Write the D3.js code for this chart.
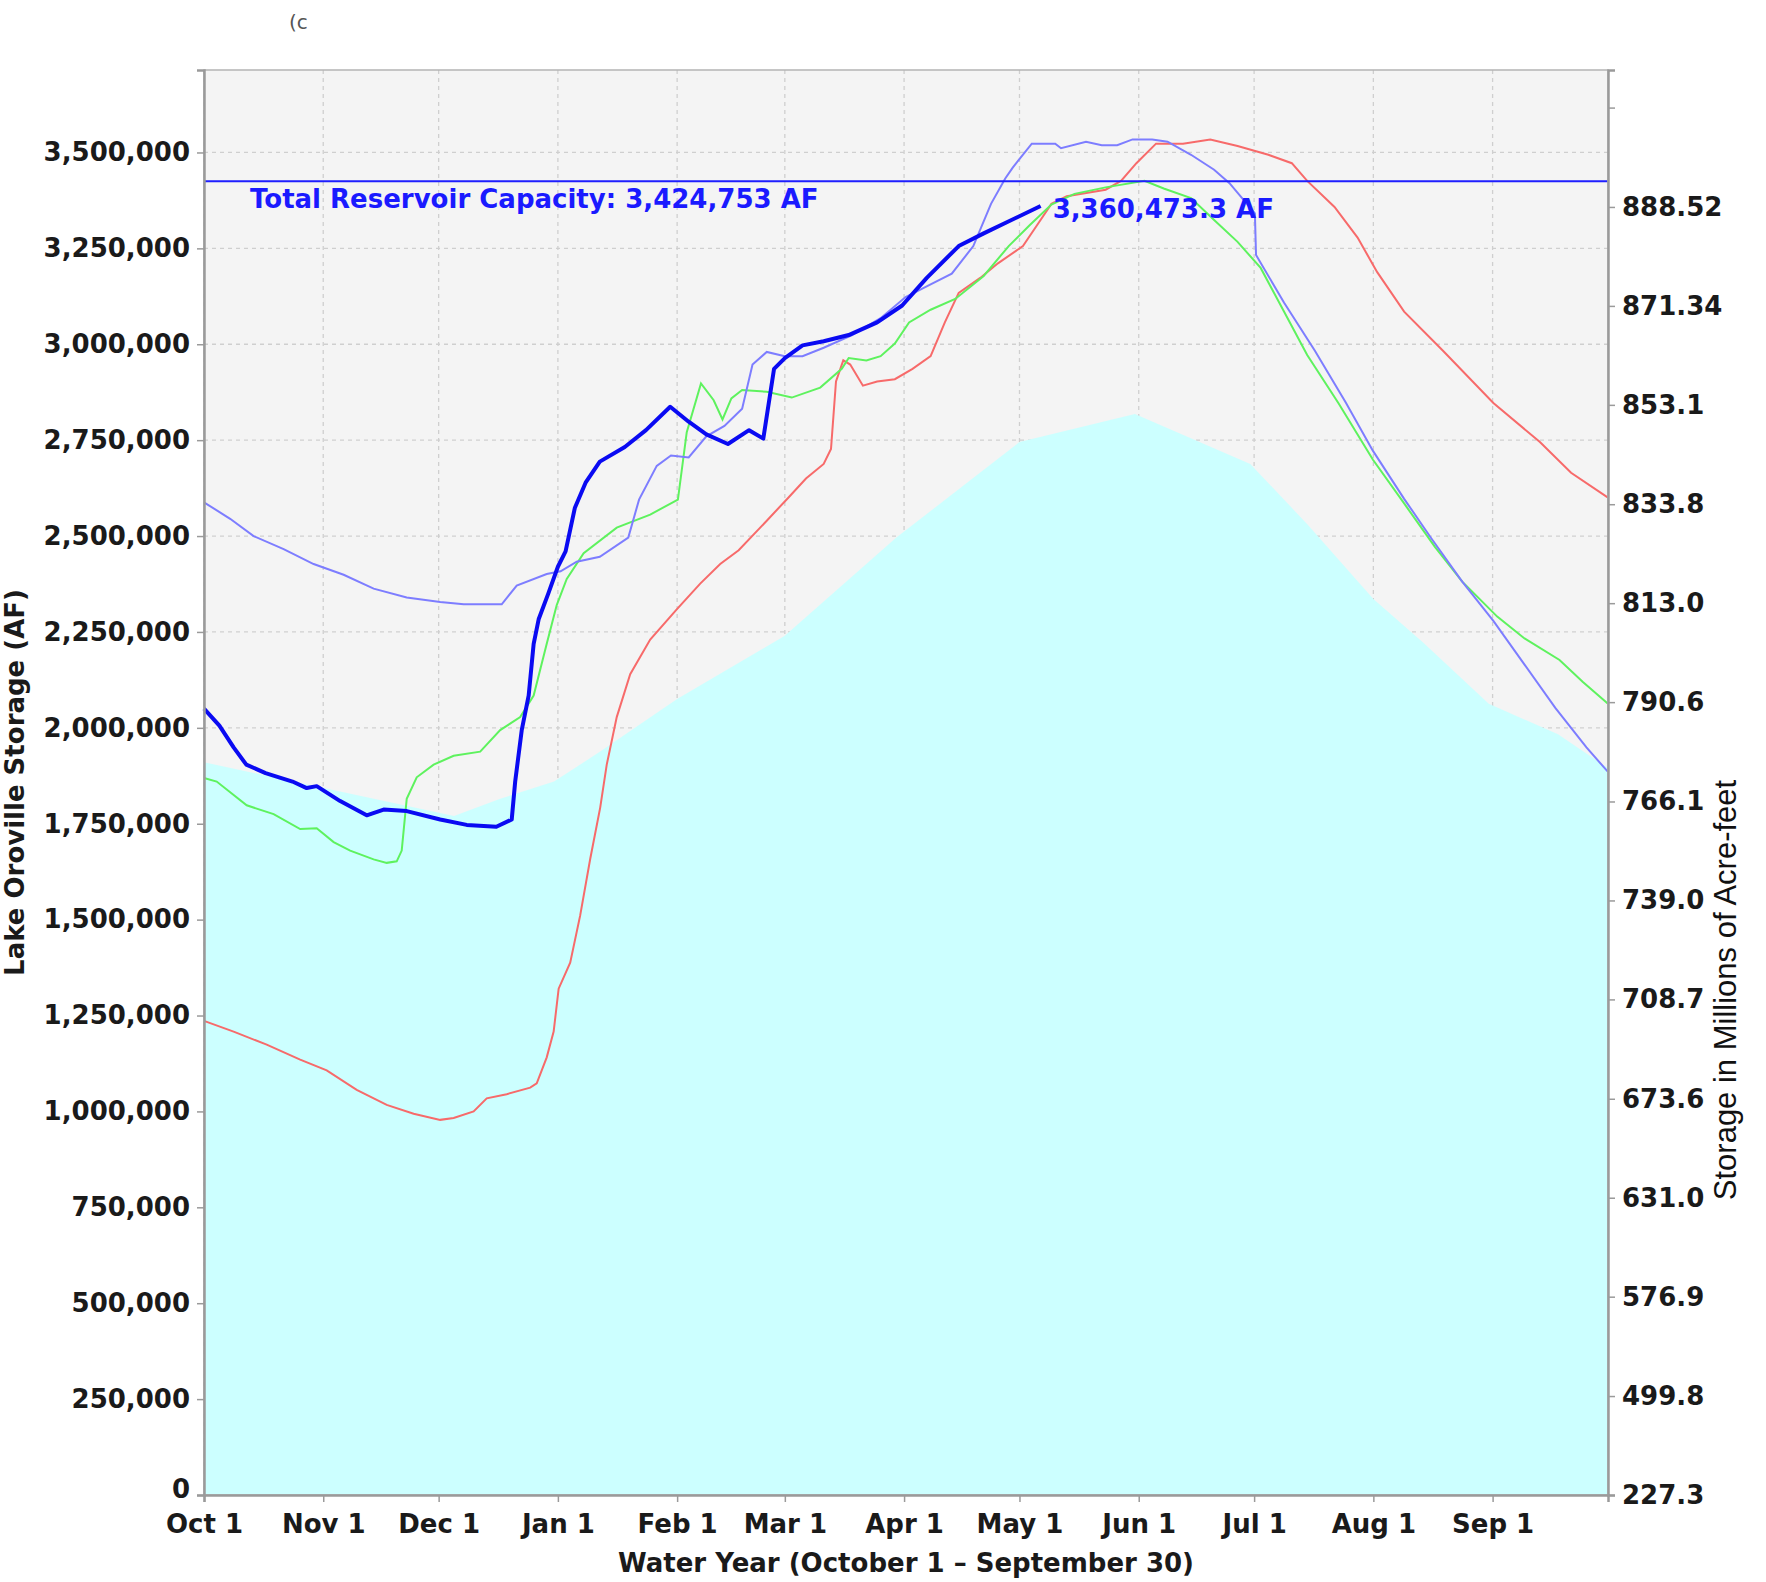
<!DOCTYPE html>
<html>
<head>
<meta charset="utf-8">
<script src="https://cdn.jsdelivr.net/npm/d3@7"></script>
<style>
  body { margin: 0; background: #ffffff; }
  svg { display: block; }
</style>
</head>
<body>
<script>
// size of the picture
var w = 1766;
var h = 1582;
const margin = {top: 70, bottom: 87, right: 158, left: 204};

// x axis: day of the water year (0 = Oct 1)
const monthDays = [0, 31, 61, 92, 123, 151, 182, 212, 243, 273, 304, 335];
const monthLabels = ["Oct 1", "Nov 1", "Dec 1", "Jan 1", "Feb 1", "Mar 1",
                     "Apr 1", "May 1", "Jun 1", "Jul 1", "Aug 1", "Sep 1"];

// left axis ticks (acre-feet)
const leftTicks = [0, 250000, 500000, 750000, 1000000, 1250000, 1500000, 1750000,
                   2000000, 2250000, 2500000, 2750000, 3000000, 3250000, 3500000];

// right axis: positions (in AF) and their elevation labels
const rightTickAF = [0, 258000, 517000, 775000, 1033000, 1292000, 1550000, 1808000,
                     2067000, 2325000, 2583000, 2842000, 3100000, 3358000, 3617000];
const rightTickLabels = ["227.3", "499.8", "576.9", "631.0", "673.6", "708.7", "739.0",
                         "766.1", "790.6", "813.0", "833.8", "853.1", "871.34", "888.52", ""];

const capacity = 3424753;

// current water year (thick blue)
const currentDays = [0, 4, 7.7, 11, 16, 23, 26.7, 29.3, 35.4, 42.3, 46.7, 52.7, 61.4, 68.3,
  76, 80, 80.9, 82.6, 84.4, 85.7, 87, 89.5, 92, 94, 96.4, 99.2, 102.9, 109.4, 114.9, 121.2,
  126, 130.6, 136.2, 141.7, 145.4, 148.2, 151, 155.6, 161.1, 167.6, 175, 181.5, 187.9,
  196.2, 202.7, 208.3, 217.5];
const currentAF = [2050000, 2006000, 1949000, 1904000, 1882000, 1860000, 1843000, 1848000,
  1809000, 1772000, 1787000, 1783000, 1761000, 1747000, 1742000, 1761000, 1860000, 1994000,
  2084000, 2219000, 2283000, 2350000, 2420000, 2460000, 2573000, 2639000, 2694000, 2732000,
  2776000, 2837000, 2798000, 2765000, 2740000, 2776000, 2754000, 2936000, 2964000, 2997000,
  3008000, 3024000, 3057000, 3101000, 3173000, 3256000, 3289000, 3316000, 3360473];
const currentLabel = "3,360,473.3 AF";

// light blue year
const blueDays = [0, 6.8, 12.9, 20.7, 28.5, 36.3, 44.1, 52.7, 61.4, 67.5, 77.4, 81.3, 89.1,
  92.7, 96.9, 102.9, 110.3, 113.1, 117.7, 121.4, 126, 130.6, 135.3, 139.9, 142.6, 146.3, 151,
  155.6, 161.1, 168.5, 175.9, 182.4, 188.9, 194.4, 200, 204.6, 208.3, 210.2, 215.2, 221.3,
  222.8, 229.3, 233.4, 237.4, 241.4, 246.5, 250.5, 256.6, 262.6, 266.6, 273.2, 273.5, 280.8,
  288.8, 296.9, 303.9, 312, 319, 327.1, 335.2, 343.3, 351.3, 359.4, 365];
const blueAF = [2588000, 2545000, 2500000, 2466000, 2427000, 2399000, 2363000, 2340000,
  2328000, 2322000, 2322000, 2371000, 2401000, 2408000, 2433000, 2446000, 2496000, 2595000,
  2683000, 2710000, 2705000, 2760000, 2787000, 2832000, 2947000, 2980000, 2969000, 2969000,
  2991000, 3024000, 3068000, 3123000, 3156000, 3184000, 3256000, 3366000, 3432000, 3460000,
  3523000, 3523000, 3511000, 3528000, 3519000, 3519000, 3534000, 3534000, 3528000, 3494000,
  3455000, 3420000, 3341000, 3233000, 3108000, 2983000, 2847000, 2722000, 2597000, 2495000,
  2381000, 2279000, 2165000, 2052000, 1949000, 1885000];

// green year
const greenDays = [0, 3.3, 11.1, 18.1, 25, 29.3, 33.7, 38, 44.1, 47.5, 50.1, 51.4, 52.7, 55.3,
  59.7, 64.9, 71.8, 77, 82.2, 85.7, 89.1, 91.7, 94.3, 98.7, 107.3, 116, 123.2, 125.5, 129.2,
  132.5, 134.8, 137.1, 139.9, 146.3, 152.8, 160.2, 165.8, 167.6, 172.2, 175.9, 179.6, 183.3,
  188.9, 195.3, 202.7, 209.2, 214.7, 220.3, 226.3, 234.4, 244.5, 249.5, 256.6, 262.6, 268.7,
  274.7, 280.8, 286.8, 294.9, 303.9, 312, 320, 327.1, 336.2, 343.3, 352.4, 358.4, 365];
const greenAF = [1869000, 1860000, 1798000, 1775000, 1736000, 1738000, 1702000, 1680000,
  1657000, 1648000, 1652000, 1680000, 1815000, 1871000, 1904000, 1927000, 1938000, 1994000,
  2028000, 2084000, 2219000, 2320000, 2388000, 2455000, 2522000, 2556000, 2595000, 2771000,
  2898000, 2854000, 2804000, 2859000, 2881000, 2876000, 2861000, 2887000, 2936000, 2964000,
  2958000, 2969000, 3002000, 3057000, 3090000, 3118000, 3178000, 3256000, 3311000, 3364000,
  3392000, 3409000, 3426000, 3406000, 3381000, 3324000, 3267000, 3199000, 3085000, 2972000,
  2847000, 2699000, 2585000, 2472000, 2381000, 2290000, 2233000, 2177000, 2120000, 2063000];

// red year
const redDays = [0, 7.7, 16.3, 25, 31.9, 39.7, 47.5, 54.5, 61.4, 64.9, 70.1, 73.5, 78.7, 84.8,
  86.5, 89.1, 90.9, 92.2, 95.2, 97.8, 100.4, 103, 104.7, 107.3, 110.8, 116, 122.9, 129, 134.2,
  139, 146.3, 151.9, 156.5, 161.1, 163, 164.3, 166.2, 168, 171.3, 175, 179.6, 184.2, 188.9,
  192.6, 196.2, 201.8, 206.4, 212.9, 216.6, 220.3, 224.3, 234.4, 238.4, 242.4, 247.5, 254.5,
  261.6, 268.7, 276.7, 282.8, 286.8, 293.9, 299.9, 305, 312, 322.1, 335.2, 347.3, 355.4, 365];
const redAF = [1236000, 1208000, 1174000, 1135000, 1107000, 1056000, 1017000, 994000, 978000,
  983000, 1000000, 1034000, 1045000, 1062000, 1073000, 1141000, 1208000, 1320000, 1388000,
  1511000, 1658000, 1792000, 1904000, 2028000, 2140000, 2230000, 2309000, 2376000, 2427000,
  2463000, 2540000, 2600000, 2650000, 2688000, 2727000, 2903000, 2958000, 2947000, 2892000,
  2903000, 2909000, 2936000, 2969000, 3057000, 3134000, 3173000, 3211000, 3256000, 3311000,
  3366000, 3386000, 3403000, 3426000, 3472000, 3523000, 3523000, 3534000, 3517000, 3494000,
  3472000, 3426000, 3358000, 3278000, 3188000, 3085000, 2983000, 2847000, 2745000, 2665000,
  2600000];

// cyan area
const areaDays = [0, 65, 77, 91, 103, 123, 151, 180, 212, 242, 272, 287, 304, 317, 334, 352, 365];
const areaAF = [1910000, 1770000, 1815000, 1860000, 1938000, 2075000, 2240000, 2496000,
  2745000, 2818000, 2688000, 2529000, 2336000, 2222000, 2063000, 1983000, 1895000];

// pair days with values
function zipSeries(days, values) {
  return days.map(function(d, i) { return {day: d, af: values[i]}; });
}

function drawChart() {
  var svg = d3.select("body")
              .append("svg")
              .attr("width", w)
              .attr("height", h);

  var xScale = d3.scaleLinear()
                 .domain([0, 365])
                 .range([margin.left, w - margin.right]);

  var yScale = d3.scaleLinear()
                 .domain([0, 3715000])
                 .range([h - margin.bottom, margin.top]);

  var plotW = w - margin.left - margin.right;
  var plotH = h - margin.top - margin.bottom;

  // plot background
  svg.append("rect")
     .attr("x", margin.left)
     .attr("y", margin.top)
     .attr("width", plotW)
     .attr("height", plotH)
     .attr("fill", "#f4f4f4");

  // dashed grid
  var grid = svg.append("g")
                .attr("stroke", "#cfcfcf")
                .attr("stroke-width", 1.3)
                .attr("stroke-dasharray", "4,4");

  grid.selectAll(".hgrid")
      .data(leftTicks)
      .enter()
      .append("line")
      .attr("x1", margin.left)
      .attr("x2", w - margin.right)
      .attr("y1", function(d) { return yScale(d); })
      .attr("y2", function(d) { return yScale(d); });

  grid.selectAll(".vgrid")
      .data(monthDays)
      .enter()
      .append("line")
      .attr("x1", function(d) { return xScale(d); })
      .attr("x2", function(d) { return xScale(d); })
      .attr("y1", margin.top)
      .attr("y2", h - margin.bottom);

  // cyan area
  var area = d3.area()
               .x(function(d) { return xScale(d.day); })
               .y0(yScale(0))
               .y1(function(d) { return yScale(d.af); });

  svg.append("path")
     .datum(zipSeries(areaDays, areaAF))
     .attr("d", area)
     .attr("fill", "#ccffff");

  var line = d3.line()
               .x(function(d) { return xScale(d.day); })
               .y(function(d) { return yScale(d.af); });

  // thin lines for the other years
  var thin = [
    {days: redDays, af: redAF, color: "#f76a6a"},
    {days: greenDays, af: greenAF, color: "#5ef25e"},
    {days: blueDays, af: blueAF, color: "#7d7dff"}
  ];

  thin.forEach(function(s) {
    svg.append("path")
       .datum(zipSeries(s.days, s.af))
       .attr("d", line)
       .attr("fill", "none")
       .attr("stroke", s.color)
       .attr("stroke-width", 2);
  });

  // capacity line
  svg.append("line")
     .attr("x1", margin.left)
     .attr("x2", w - margin.right)
     .attr("y1", yScale(capacity))
     .attr("y2", yScale(capacity))
     .attr("stroke", "#1e1eff")
     .attr("stroke-width", 2);

  svg.append("text")
     .attr("x", margin.left + 46)
     .attr("y", yScale(capacity) + 27)
     .attr("fill", "#1a1aff")
     .attr("font-family", "DejaVu Sans")
     .attr("font-weight", "bold")
     .attr("font-size", "26px")
     .text("Total Reservoir Capacity: " + d3.format(",")(capacity) + " AF");

  // current year, thick line
  var current = zipSeries(currentDays, currentAF);
  svg.append("path")
     .datum(current)
     .attr("d", line)
     .attr("fill", "none")
     .attr("stroke", "#0a0af2")
     .attr("stroke-width", 4)
     .attr("stroke-linejoin", "round");

  var last = current[current.length - 1];
  svg.append("text")
     .attr("x", xScale(last.day) + 12)
     .attr("y", yScale(last.af) + 12)
     .attr("fill", "#1a1aff")
     .attr("font-family", "DejaVu Sans")
     .attr("font-weight", "bold")
     .attr("font-size", "26px")
     .text(currentLabel);

  // plot border
  svg.append("rect")
     .attr("x", margin.left)
     .attr("y", margin.top)
     .attr("width", plotW)
     .attr("height", plotH)
     .attr("fill", "none")
     .attr("stroke", "#b4b4b4")
     .attr("stroke-width", 1.5);

  // axes
  const xAxis = d3.axisBottom(xScale)
                  .tickValues(monthDays)
                  .tickFormat(function(d, i) { return monthLabels[i]; })
                  .tickSize(7)
                  .tickPadding(13);

  const yAxis = d3.axisLeft(yScale)
                  .tickValues(leftTicks)
                  .tickFormat(d3.format(","))
                  .tickSize(7)
                  .tickPadding(7);

  const rightAxis = d3.axisRight(yScale)
                      .tickValues(rightTickAF)
                      .tickFormat(function(d, i) { return rightTickLabels[i]; })
                      .tickSize(7)
                      .tickPadding(7);

  var gx = svg.append("g")
              .attr("transform", "translate(0," + (h - margin.bottom) + ")")
              .call(xAxis);

  var gy = svg.append("g")
              .attr("transform", "translate(" + margin.left + ",0)")
              .call(yAxis);

  var gr = svg.append("g")
              .attr("transform", "translate(" + (w - margin.right) + ",0)")
              .call(rightAxis);

  [gx, gy, gr].forEach(function(g) {
    g.select(".domain").attr("stroke", "#9a9a9a").attr("stroke-width", 2.5);
    g.selectAll(".tick line").attr("stroke", "#9a9a9a").attr("stroke-width", 1.5);
    g.selectAll("text")
     .attr("fill", "#1a1a1a")
     .attr("font-family", "DejaVu Sans")
     .attr("font-weight", "bold")
     .attr("font-size", "26px");
  });

  // the "0" label sits a little higher so it clears "Oct 1"
  gy.selectAll(".tick text")
    .filter(function(d) { return d === 0; })
    .attr("dy", "0.1em");

  // axis titles
  svg.append("text")
     .attr("x", margin.left + plotW / 2)
     .attr("y", h - 10)
     .attr("text-anchor", "middle")
     .attr("fill", "#1a1a1a")
     .attr("font-family", "DejaVu Sans")
     .attr("font-weight", "bold")
     .attr("font-size", "26px")
     .text("Water Year (October 1 \u2013 September 30)");

  svg.append("text")
     .attr("transform", "translate(24," + (margin.top + plotH / 2) + ") rotate(-90)")
     .attr("text-anchor", "middle")
     .attr("fill", "#1a1a1a")
     .attr("font-family", "DejaVu Sans")
     .attr("font-weight", "bold")
     .attr("font-size", "26px")
     .text("Lake Oroville Storage (AF)");

  svg.append("text")
     .attr("transform", "translate(1736,990) rotate(-90)")
     .attr("text-anchor", "middle")
     .attr("fill", "#111111")
     .attr("font-family", "Liberation Sans")
     .attr("font-size", "31px")
     .text("Storage in Millions of Acre-feet");

  // clipped note at the top
  svg.append("text")
     .attr("x", 289)
     .attr("y", 29)
     .attr("fill", "#555555")
     .attr("font-family", "DejaVu Sans")
     .attr("font-size", "20px")
     .text("(c");
}

drawChart();
</script>
</body>
</html>
